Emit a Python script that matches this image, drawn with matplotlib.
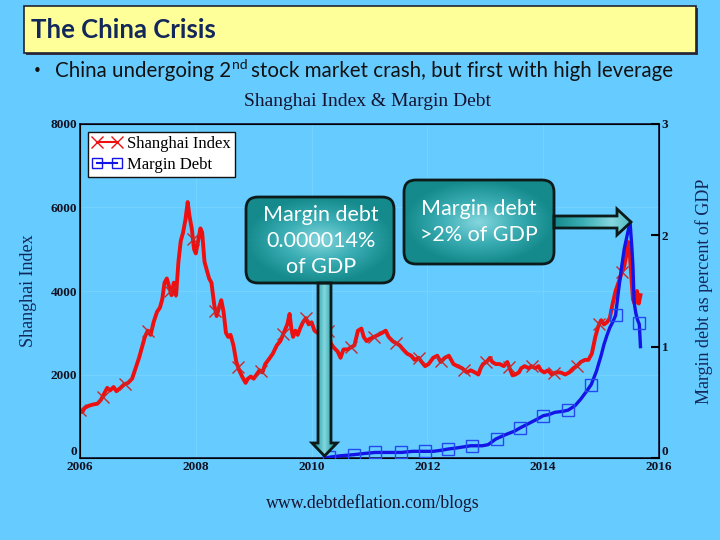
import numpy as np
import matplotlib.pyplot as plt
from matplotlib.patches import FancyBboxPatch, Polygon, Rectangle
from matplotlib.lines import Line2D
from matplotlib.colors import LinearSegmentedColormap

BG = '#66ccff'
RED = '#ee1010'
BLUE = '#1414e6'
NAVY = '#13285a'

# Shanghai composite index
sh_years = [2006.00, 2006.04, 2006.08, 2006.15, 2006.22, 2006.30, 2006.36, 2006.42, 2006.47, 2006.52,
            2006.58, 2006.63, 2006.70, 2006.76, 2006.83, 2006.90, 2006.96, 2007.02, 2007.07, 2007.12,
            2007.17, 2007.22, 2007.27, 2007.33, 2007.38, 2007.42, 2007.46, 2007.50, 2007.54, 2007.58,
            2007.62, 2007.66, 2007.70, 2007.74, 2007.78, 2007.82, 2007.86, 2007.89, 2007.93, 2007.97,
            2008.00, 2008.04, 2008.08, 2008.11, 2008.15, 2008.19, 2008.23, 2008.27, 2008.32, 2008.36,
            2008.40, 2008.44, 2008.48, 2008.52, 2008.56, 2008.60, 2008.65, 2008.70, 2008.75, 2008.80,
            2008.86, 2008.90, 2008.95, 2009.00, 2009.05, 2009.10, 2009.15, 2009.20, 2009.28, 2009.33,
            2009.40, 2009.46, 2009.52, 2009.58, 2009.62, 2009.65, 2009.68, 2009.72, 2009.76, 2009.80,
            2009.85, 2009.90, 2009.95, 2010.00, 2010.05, 2010.10, 2010.15, 2010.22, 2010.28, 2010.33,
            2010.38, 2010.45, 2010.50, 2010.55, 2010.62, 2010.68, 2010.74, 2010.80, 2010.86, 2010.90,
            2010.95, 2011.00, 2011.08, 2011.15, 2011.22, 2011.28, 2011.33, 2011.40, 2011.46, 2011.52,
            2011.58, 2011.65, 2011.72, 2011.78, 2011.85, 2011.90, 2011.96, 2012.02, 2012.10, 2012.17,
            2012.23, 2012.30, 2012.37, 2012.45, 2012.52, 2012.60, 2012.68, 2012.75, 2012.82, 2012.88,
            2012.92, 2012.96, 2013.02, 2013.08, 2013.12, 2013.18, 2013.25, 2013.32, 2013.38, 2013.42,
            2013.47, 2013.52, 2013.58, 2013.62, 2013.68, 2013.75, 2013.80, 2013.86, 2013.92, 2013.96,
            2014.02, 2014.08, 2014.15, 2014.22, 2014.30, 2014.38, 2014.45, 2014.52, 2014.58, 2014.65,
            2014.72, 2014.78, 2014.84, 2014.90, 2014.95, 2015.00, 2015.05, 2015.10, 2015.15, 2015.20,
            2015.25, 2015.30, 2015.36, 2015.40, 2015.44, 2015.47, 2015.50, 2015.53, 2015.55, 2015.58,
            2015.62, 2015.65, 2015.68]
sh_index = [1150, 1100, 1200, 1250, 1280, 1300, 1390, 1550, 1680, 1620,
            1700, 1600, 1680, 1760, 1800, 1900, 2150, 2400, 2650, 2900,
            3050, 2950, 3250, 3500, 3600, 3800, 4200, 4300, 4100, 3900,
            4200, 3900, 4700, 5200, 5400, 5700, 6130, 5800, 5500, 5000,
            4900, 5200, 5500, 5400, 4700, 4500, 4300, 4200, 3650, 3400,
            3600, 3780, 3500, 3000, 2900, 2950, 2700, 2300, 2100, 1950,
            1800, 1900, 1950, 1900, 2000, 2100, 2050, 2250, 2400, 2500,
            2700, 2800, 3000, 3200, 3450, 3100, 2900, 3050, 2950, 3100,
            3250, 3350, 3200, 3250, 3050, 3000, 3100, 3200, 3100, 2750,
            2650, 2550, 2400, 2600, 2600, 2650, 2700, 3050, 3100, 2900,
            2800, 2850, 2900, 2950, 3000, 3050, 2900, 2800, 2750, 2700,
            2600, 2500, 2450, 2350, 2400, 2300, 2200, 2250, 2400, 2450,
            2300, 2400, 2450, 2250, 2200, 2150, 2050, 2100, 2050, 2000,
            2150, 2250, 2300, 2400, 2300, 2250, 2250, 2200, 2300, 2150,
            1980, 2000, 2050, 2150, 2200, 2150, 2200, 2150, 2200, 2100,
            2050, 2100, 2000, 2050, 2050, 2000, 2050, 2150, 2200, 2300,
            2350, 2350, 2500, 2900, 3150, 3300, 3200, 3250, 3350, 3700,
            4000, 4200, 4450, 4600, 4900, 5170, 4800, 4200, 3800, 3700,
            4000, 3700, 3900]
sh_marker_years = [2006.00, 2006.39, 2006.78, 2007.17, 2007.56, 2007.95, 2008.34, 2008.73, 2009.12,
                   2009.51, 2009.90, 2010.29, 2010.68, 2011.07, 2011.46, 2011.85, 2012.24, 2012.63,
                   2013.02, 2013.41, 2013.80, 2014.19, 2014.58, 2014.97, 2015.36]

# Margin debt as percent of GDP
md_years = [2010.22, 2010.35, 2010.50, 2010.73, 2010.90, 2011.10, 2011.30, 2011.55, 2011.75, 2011.96,
            2012.10, 2012.25, 2012.35, 2012.50, 2012.75, 2012.95, 2013.05, 2013.18, 2013.35, 2013.50,
            2013.60, 2013.75, 2013.90, 2014.00, 2014.10, 2014.20, 2014.35, 2014.43, 2014.55, 2014.65,
            2014.75, 2014.83, 2014.92, 2015.00, 2015.05, 2015.10, 2015.15, 2015.20, 2015.25, 2015.30,
            2015.35, 2015.40, 2015.45, 2015.50, 2015.53, 2015.55, 2015.57, 2015.60, 2015.63, 2015.66,
            2015.68]
md_pct = [0.00, 0.01, 0.02, 0.03, 0.04, 0.05, 0.05, 0.05, 0.06, 0.06,
          0.06, 0.07, 0.08, 0.09, 0.11, 0.11, 0.12, 0.17, 0.21, 0.24,
          0.27, 0.31, 0.35, 0.38, 0.39, 0.41, 0.42, 0.43, 0.47, 0.53,
          0.60, 0.66, 0.78, 0.92, 1.02, 1.10, 1.17, 1.22, 1.28, 1.50,
          1.70, 1.88, 2.00, 2.12, 1.90, 1.72, 1.40, 1.30, 1.24, 1.20,
          1.00]
md_marker_years = [2010.30, 2010.73, 2011.10, 2011.55, 2011.96, 2012.35, 2012.77, 2013.20, 2013.60,
                   2014.00, 2014.43, 2014.83, 2015.25, 2015.65]

x_ticks = [2006, 2008, 2010, 2012, 2014, 2016]
left_ticks = [0, 2000, 4000, 6000, 8000]
right_ticks = [0, 1, 2, 3]

serif = 'Liberation Serif'
sans = 'Lato'

fig = plt.figure(figsize=(7.2, 5.4), dpi=100, facecolor=BG)
ax = fig.add_axes([80 / 720, 82 / 540, 579 / 720, 334 / 540])
ax.set_facecolor(BG)

ax.plot(sh_years, sh_index, color=RED, lw=2.8, zorder=3)
ax.plot(sh_marker_years, np.interp(sh_marker_years, sh_years, sh_index), ls='none',
        marker='x', ms=9, mew=1.0, color='#c82828', zorder=4)
ax.set_xlim(2006, 2016)
ax.set_ylim(0, 8000)
ax.set_xticks(x_ticks)
ax.set_yticks(left_ticks)
ax.tick_params(axis='both', length=0, pad=2, labelsize=9.5, labelcolor='#111122')
for lab in ax.get_xticklabels() + ax.get_yticklabels():
    lab.set_fontfamily(serif)
    lab.set_fontweight('bold')
ax.get_yticklabels()[0].set_va('bottom')
ax.grid(True, color='#74d2ff', lw=0.8)
ax.set_ylabel('Shanghai Index', fontfamily=serif, fontsize=13, color=NAVY, labelpad=10)
for s in ax.spines.values():
    s.set_color('#111133')
    s.set_linewidth(1.2)

ax2 = ax.twinx()
ax2.plot(md_years, md_pct, color=BLUE, lw=2.4, zorder=3)
ax2.plot(md_marker_years, np.interp(md_marker_years, md_years, md_pct), ls='none',
         marker='s', ms=9, mew=1.0, mfc='none', mec='#2448f0', zorder=4)
ax2.set_ylim(0, 3)
ax2.set_yticks(right_ticks)
ax2.tick_params(axis='y', direction='in', length=6, width=1.5, pad=2, labelsize=9.5,
                labelcolor='#111122')
for lab in ax2.get_yticklabels():
    lab.set_fontfamily(serif)
    lab.set_fontweight('bold')
ax2.get_yticklabels()[0].set_va('bottom')
ax2.set_ylabel('Margin debt as percent of GDP', fontfamily=serif, fontsize=13, color=NAVY,
               labelpad=19)

handles = [Line2D([], [], color=RED, lw=1.5, marker='x', ms=8, mew=1.0),
           Line2D([], [], color=BLUE, lw=1.5, marker='s', ms=7, mew=1.0, mfc='none')]
leg = ax2.legend(handles, ['Shanghai Index', 'Margin Debt'], loc='upper left',
                 bbox_to_anchor=(0.014, 0.976), borderaxespad=0, numpoints=2, fancybox=False,
                 framealpha=1, edgecolor='#111111', handlelength=1.8, handletextpad=0.3,
                 borderpad=0.25, labelspacing=0.3, prop={'family': serif, 'size': 12})
leg.get_frame().set_linewidth(1.0)

# overlay in pixel coordinates for slide decorations
ov = fig.add_axes([0, 0, 1, 1], zorder=10)
ov.patch.set_alpha(0)
ov.axis('off')
ov.set_xlim(0, 720)
ov.set_ylim(540, 0)

teal = LinearSegmentedColormap.from_list('teal', ['#86d6de', '#3aaeb4', '#158a8c'])


def gradient_fill(patch, x0, x1, y0, y1, mode='radial'):
    xx, yy = np.meshgrid(np.linspace(-1, 1, 200), np.linspace(-1, 1, 200))
    if mode == 'radial':
        v = np.clip(np.sqrt(xx ** 2 + yy ** 2), 0, 1)
    elif mode == 'xmid':
        v = np.abs(xx)
    else:
        v = np.clip(np.abs(xx - 0.5) / 1.5, 0, 1)
    im = ov.imshow(v, extent=[x0, x1, y1, y0], cmap=teal, vmin=0, vmax=1, aspect='auto',
                   interpolation='bilinear', zorder=2)
    im.set_clip_path(patch)
    ov.set_xlim(0, 720)
    ov.set_ylim(540, 0)


# title bar
ov.add_patch(Rectangle((26, 8), 672, 47, facecolor='#333344', edgecolor='none', zorder=1))
ov.add_patch(Rectangle((24, 6), 672, 47, facecolor='#ffff99', edgecolor='#222233', lw=1.2, zorder=2))
ov.text(31, 30, 'The China Crisis', fontfamily=sans, fontsize=18.5, fontweight='bold',
        color=NAVY, va='center', ha='left', zorder=3)

# bullet line with superscript
r = fig.canvas.get_renderer()
ov.text(33, 71, '\u2022', fontfamily='DejaVu Sans', fontsize=11, color='#111111', va='center')
t1 = ov.text(55, 71, 'China undergoing 2', fontfamily=sans, fontsize=14.8, color='#111111',
             va='center')
b1 = t1.get_window_extent(r)
t2 = ov.text(b1.x1 + 0.5, 65, 'nd', fontfamily=sans, fontsize=10, color='#111111', va='center')
b2 = t2.get_window_extent(r)
ov.text(b2.x1 + 4, 71, 'stock market crash, but first with high leverage', fontfamily=sans,
        fontsize=14.8, color='#111111', va='center')

ov.text(368, 101, 'Shanghai Index & Margin Debt', fontfamily=serif, fontsize=14,
        color='#141430', ha='center', va='center')
ov.text(373, 503, 'www.debtdeflation.com/blogs', fontfamily=serif, fontsize=12.8,
        color='#141430', ha='center', va='center')

# annotation 1: box + down arrow
box1 = FancyBboxPatch((246, 197), 148, 86, boxstyle='round,pad=0,rounding_size=12',
                      facecolor='none', edgecolor='#0c1a1a', lw=2, zorder=3)
ov.add_patch(box1)
gradient_fill(box1, 246, 394, 197, 283, 'radial')
arr1 = Polygon([(318, 283), (331, 283), (331, 443), (337, 443), (324.5, 456), (312, 443),
                (318, 443)], closed=True, facecolor='none', edgecolor='#0c1a1a', lw=2, zorder=3)
ov.add_patch(arr1)
gradient_fill(arr1, 312, 337, 283, 456, 'xmid')
ov.text(321, 241, 'Margin debt\n0.000014%\nof GDP', fontfamily=sans, fontsize=15.5,
        color='white', ha='center', va='center', linespacing=1.4, zorder=4)

# annotation 2: box + right arrow
box2 = FancyBboxPatch((404, 180), 150, 84, boxstyle='round,pad=0,rounding_size=12',
                      facecolor='none', edgecolor='#0c1a1a', lw=2, zorder=3)
ov.add_patch(box2)
gradient_fill(box2, 404, 554, 180, 264, 'radial')
arr2 = Polygon([(554, 216), (617, 216), (617, 209), (631, 222), (617, 235), (617, 228),
                (554, 228)], closed=True, facecolor='none', edgecolor='#0c1a1a', lw=2, zorder=3)
ov.add_patch(arr2)
gradient_fill(arr2, 554, 631, 209, 235, 'xright')
ov.text(479, 222, 'Margin debt\n>2% of GDP', fontfamily=sans, fontsize=15.5,
        color='white', ha='center', va='center', linespacing=1.4, zorder=4)

fig.savefig('out.png', dpi=100, facecolor=BG)
